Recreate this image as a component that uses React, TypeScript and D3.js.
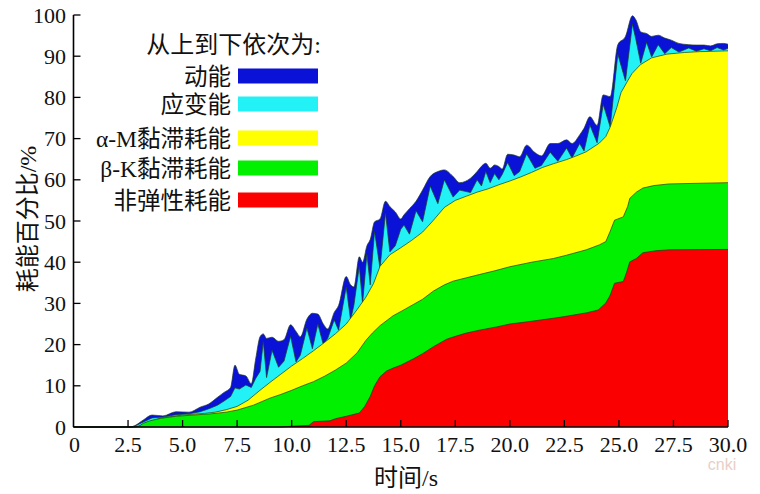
import React from 'react';
import * as d3 from 'd3';

// ---- axis ticks ----
const xTicks = [0, 2.5, 5, 7.5, 10, 12.5, 15, 17.5, 20, 22.5, 25, 27.5, 30];
const xTickLabels = ['0', '2.5', '5.0', '7.5', '10.0', '12.5', '15.0', '17.5', '20.0', '22.5', '25.0', '27.5', '30.0'];
const yTicks = [0, 10, 20, 30, 40, 50, 60, 70, 80, 90, 100];

// ---- legend ----
const legendTitle = '从上到下依次为:';
const legendNames = ['动能', '应变能', 'α-M黏滞耗能', 'β-K黏滞耗能', '非弹性耗能'];
const legendColors = ['#0a12d8', '#22f2f6', '#ffff00', '#00f000', '#fb0000'];

// ---- cumulative boundaries (% of input energy) ----
// kinetic (top of stack) and strain energy share one time base
const oscTime = [0, 2.6, 2.8, 3.2, 3.6, 4.1, 4.7, 5.3, 5.8, 6.2, 6.6, 6.9, 7.2, 7.4, 7.6, 7.9, 8.15, 8.35, 8.55, 8.7, 8.85, 9.1, 9.4, 9.65, 9.95, 10.2, 10.4, 10.7, 10.95, 11.2, 11.45, 11.65, 11.95, 12.15, 12.5, 12.7, 12.85, 13.1, 13.25, 13.45, 13.6, 13.8, 14.05, 14.3, 14.5, 14.75, 15.0, 15.15, 15.4, 15.7, 16.0, 16.35, 16.7, 17.0, 17.4, 17.7, 18.2, 18.5, 18.7, 18.9, 19.1, 19.3, 19.5, 19.65, 19.9, 20.2, 20.45, 20.77, 21.15, 21.45, 21.85, 22.2, 22.6, 22.85, 23.2, 23.4, 23.67, 24.0, 24.28, 24.6, 24.95, 25.3, 25.62, 25.78, 26.0, 26.27, 26.5, 26.8, 27.1, 27.4, 27.75, 28.2, 28.55, 28.9, 29.2, 29.5, 29.8, 30.0];
const kineticTop = [0, 0, 0.3, 1.7, 2.9, 2.7, 3.7, 3.6, 4.8, 5.6, 7.2, 8.4, 9.6, 15.0, 12.8, 12.4, 10.5, 16.5, 21.9, 22.6, 21.5, 21.8, 20.8, 21.2, 24.8, 23.2, 21.9, 26.2, 27.6, 27.4, 25.0, 23.8, 27.8, 29.5, 36.5, 34.5, 34.0, 41.3, 40.0, 44.0, 45.5, 49.8, 50.5, 54.8, 53.5, 52.2, 50.5, 51.5, 53.0, 54.8, 57.5, 60.8, 62.0, 62.4, 60.8, 59.3, 60.4, 62.0, 63.3, 64.0, 62.8, 63.6, 63.2, 62.6, 66.2, 66.0, 65.6, 68.4, 66.6, 65.8, 68.8, 68.8, 69.7, 68.8, 70.9, 72.5, 75.3, 73.2, 80.6, 80.2, 92.8, 94.8, 99.8, 98.8, 95.9, 95.5, 94.8, 95.1, 94.4, 93.9, 93.1, 92.8, 92.7, 92.7, 92.5, 93.0, 93.1, 92.9];
const strainTop = [0, 0, 0.2, 1.2, 2.2, 2.4, 3.0, 3.2, 3.7, 4.4, 5.3, 6.3, 7.4, 9.5, 9.2, 10.2, 9.6, 11.8, 13.5, 20.8, 12.0, 18.6, 14.5, 16.0, 22.0, 15.8, 17.5, 24.0, 19.0, 25.0, 20.0, 21.5, 26.0, 23.5, 34.0, 26.0, 29.5, 39.0, 30.0, 42.0, 34.5, 47.5, 38.5, 52.0, 42.5, 44.0, 48.0, 49.0, 46.8, 52.5, 49.8, 58.5, 54.2, 60.0, 55.8, 57.5, 56.9, 60.0, 58.5, 62.0, 59.3, 61.5, 60.0, 61.3, 64.2, 61.0, 62.0, 66.3, 62.8, 63.5, 66.7, 64.5, 67.7, 65.3, 68.8, 67.0, 73.3, 69.0, 78.3, 72.8, 90.5, 84.0, 97.8, 94.0, 88.3, 93.4, 89.8, 92.8, 90.6, 92.1, 91.0, 92.0, 91.2, 91.8, 91.3, 92.1, 91.5, 91.9];

// alpha-M damping (cumulative top)
const alphaTime = [0, 2.7, 3.0, 3.5, 4.0, 5.0, 6.0, 6.5, 7.0, 7.5, 8.0, 8.5, 9.0, 9.5, 10.0, 10.5, 11.0, 11.5, 12.0, 12.5, 13.0, 13.4, 13.75, 14.05, 14.5, 15.0, 15.5, 16.0, 16.5, 17.0, 17.5, 18.0, 18.5, 19.0, 19.5, 20.0, 20.5, 21.0, 21.5, 22.0, 22.6, 23.0, 23.5, 24.1, 24.4, 24.6, 24.9, 25.1, 25.4, 25.6, 26.0, 26.5, 27.2, 28.0, 28.7, 30.0];
const alphaTop = [0, 0, 0.2, 1.3, 2.2, 2.9, 3.3, 3.6, 4.2, 5.0, 6.5, 8.7, 10.8, 12.8, 14.8, 16.6, 18.5, 20.5, 22.6, 25.0, 28.5, 31.5, 34.8, 39.0, 41.8, 43.5, 45.3, 47.3, 50.2, 53.3, 55.0, 56.0, 57.0, 57.8, 58.8, 59.7, 60.7, 61.8, 63.0, 63.9, 64.9, 65.7, 66.8, 68.9, 70.5, 72.8, 77.5, 81.2, 84.0, 85.8, 88.0, 89.6, 90.5, 90.9, 91.1, 91.3];

// beta-K damping (cumulative top)
const betaTime = [0, 2.8, 3.0, 3.2, 3.5, 4.0, 4.7, 5.5, 6.3, 7.0, 7.5, 8.25, 9.0, 9.5, 10.0, 10.5, 11.0, 11.5, 12.0, 12.5, 13.0, 13.4, 13.7, 14.05, 14.65, 15.1, 15.6, 16.0, 16.5, 17.0, 17.4, 18.0, 18.6, 19.3, 20.0, 21.0, 22.0, 22.6, 23.5, 24.1, 24.4, 24.6, 24.8, 25.2, 25.4, 25.5, 25.8, 26.1, 26.6, 27.3, 30.0];
const betaTop = [0, 0, 0.2, 0.9, 1.5, 2.1, 2.6, 2.9, 3.2, 3.6, 4.1, 5.3, 7.0, 7.9, 8.9, 10.0, 11.0, 12.3, 13.8, 15.5, 18.0, 21.0, 22.8, 24.6, 27.0, 28.3, 29.8, 31.0, 33.0, 34.5, 35.4, 36.2, 37.0, 37.9, 38.9, 40.0, 40.9, 41.7, 43.0, 44.2, 45.0, 47.5, 50.2, 51.0, 53.5, 55.5, 57.0, 58.0, 58.6, 59.0, 59.3];

// inelastic (bottom of stack)
const inelTime = [0, 9.5, 10.0, 10.8, 11.0, 11.75, 12.0, 12.5, 13.1, 13.35, 13.6, 13.8, 14.05, 14.35, 14.65, 15.0, 15.6, 16.0, 16.5, 17.1, 17.5, 18.0, 18.6, 19.4, 20.0, 20.9, 22.0, 22.5, 23.5, 24.05, 24.4, 24.6, 24.8, 25.2, 25.35, 25.5, 25.8, 26.1, 26.7, 27.3, 30.0];
const inelTop = [0, 0, 0.2, 0.4, 1.3, 1.5, 2.0, 2.6, 3.4, 5.0, 7.4, 10.0, 12.2, 13.6, 14.3, 15.0, 16.6, 17.8, 19.5, 21.3, 22.0, 22.8, 23.5, 24.3, 25.0, 25.6, 26.4, 26.8, 27.7, 28.4, 30.1, 32.0, 34.9, 35.3, 37.5, 40.1, 40.9, 42.3, 42.8, 43.0, 43.1];

const layers = [
  { time: oscTime, top: kineticTop, color: legendColors[0], smooth: true },
  { time: oscTime, top: strainTop, color: legendColors[1], smooth: false },
  { time: alphaTime, top: alphaTop, color: legendColors[2], smooth: false },
  { time: betaTime, top: betaTop, color: legendColors[3], smooth: false },
  { time: inelTime, top: inelTop, color: legendColors[4], smooth: false },
];

const W = 760;
const H = 494;
const serif = '"Liberation Serif", "Times New Roman", serif';
const cjk = '"Liberation Serif", "Noto Sans CJK SC", serif';

export default function App() {
  const x = d3.scaleLinear().domain([0, 30]).range([73.5, 728]);
  const y = d3.scaleLinear().domain([0, 100]).range([427, 15]);

  const legendY = [76, 104, 138, 168, 200];

  return (
    <svg
      width={W}
      height={H}
      viewBox={`0 0 ${W} ${H}`}
      style={{ position: 'absolute', left: 0, top: 0, background: '#fff' }}
    >
      <rect x={0} y={0} width={W} height={H} fill="#fff" />
      {layers.map((l, i) => {
        const pts = l.time.map((t, j) => [t, l.top[j]] as [number, number]);
        const curve = l.smooth ? d3.curveMonotoneX : d3.curveLinear;
        const areaGen = d3
          .area<[number, number]>()
          .x((d) => x(d[0]))
          .y0(() => y(0))
          .y1((d) => y(d[1]))
          .curve(curve);
        const lineGen = d3
          .line<[number, number]>()
          .x((d) => x(d[0]))
          .y((d) => y(d[1]))
          .curve(curve);
        return (
          <g key={i}>
            <path d={areaGen(pts) || ''} fill={l.color} />
            <path d={lineGen(pts) || ''} fill="none" stroke="#1e3a1e" strokeWidth={0.7} />
          </g>
        );
      })}

      {/* axes */}
      <line x1={x(0)} x2={x(30)} y1={y(0)} y2={y(0)} stroke="#000" strokeWidth={1.6} />
      <line x1={x(0)} x2={x(0)} y1={y(0)} y2={y(100)} stroke="#000" strokeWidth={1.6} />
      {xTicks.map((t, i) => (
        <g key={'xt' + i}>
          {i > 0 && <line x1={x(t)} x2={x(t)} y1={y(0)} y2={y(0) - 7} stroke="#000" strokeWidth={1.3} />}
          <text
            x={x(t) + (i === 0 ? 1 : 0)}
            y={452}
            fontFamily={serif}
            fontSize={22}
            textAnchor="middle"
            fill="#111"
          >
            {xTickLabels[i]}
          </text>
        </g>
      ))}
      {yTicks.map((v, i) => (
        <g key={'yt' + i}>
          {i > 0 && <line x1={x(0)} x2={x(0) + 7} y1={y(v)} y2={y(v)} stroke="#000" strokeWidth={1.3} />}
          <text
            x={66}
            y={y(v) + 7.5}
            fontFamily={serif}
            fontSize={22}
            textAnchor="end"
            fill="#111"
          >
            {v}
          </text>
        </g>
      ))}

      {/* axis titles */}
      <text x={406} y={486} fontFamily={cjk} fontSize={24} textAnchor="middle" fill="#111">
        时间/s
      </text>
      <text
        transform={`translate(36, 219) rotate(-90)`}
        fontFamily={cjk}
        fontSize={24}
        textAnchor="middle"
        fill="#111"
      >
        耗能百分比/%
      </text>

      {/* legend */}
      <text x={321} y={53} fontFamily={cjk} fontSize={24} textAnchor="end" fill="#111">
        {legendTitle}
      </text>
      {legendNames.map((n, i) => (
        <g key={'lg' + i}>
          <rect x={238} y={legendY[i] - 7.5} width={80} height={15} fill={legendColors[i]} />
          <text x={231} y={legendY[i] + 8.5} fontFamily={cjk} fontSize={23.5} textAnchor="end" fill="#111">
            {n}
          </text>
        </g>
      ))}

      <text x={722} y={470} fontFamily='"Liberation Sans", sans-serif' fontSize={16} textAnchor="middle" fill="#e8cfc8">
        cnki
      </text>
    </svg>
  );
}
